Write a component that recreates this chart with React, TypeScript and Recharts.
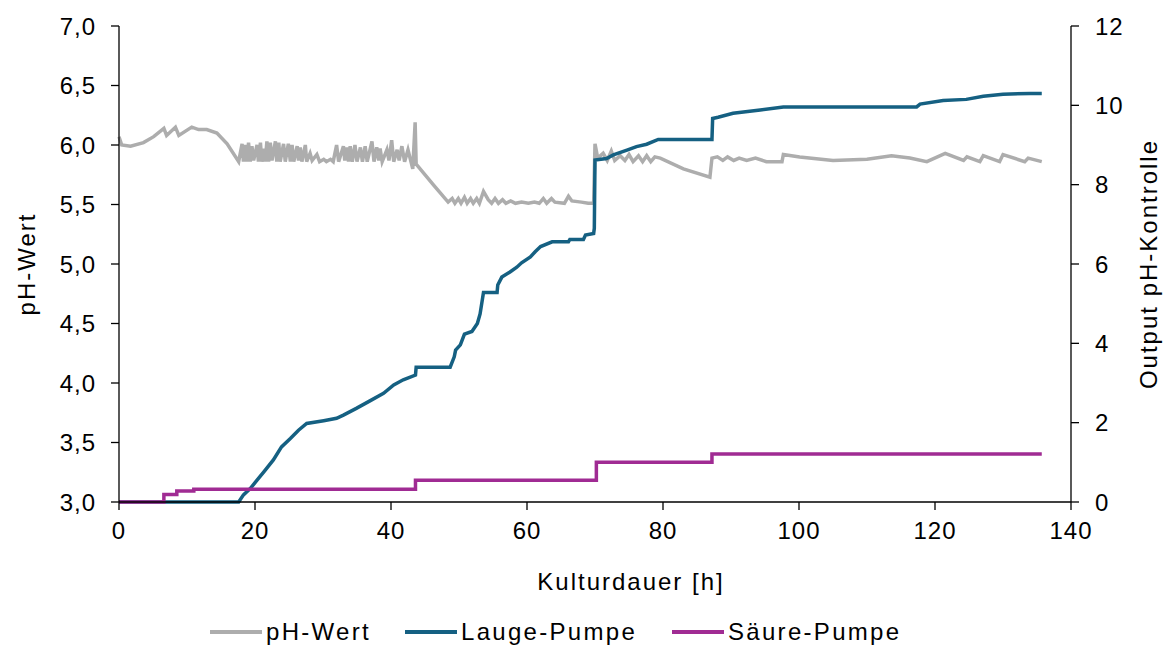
import React from 'react'
import { LineChart, Line, XAxis, YAxis, Legend } from 'recharts'

document.body.style.margin = '0'

// [Kulturdauer h, pH]
const phWert: [number, number][] = [
  [0, 6.07], [0.4, 6.0], [1.7, 5.99], [3.6, 6.02], [5.1, 6.07], [6.6, 6.14], [7.0, 6.08], [8.3, 6.15],
  [8.8, 6.08], [10.7, 6.15], [11.7, 6.13], [12.9, 6.13], [14.4, 6.1], [15.9, 6.01], [17.6, 5.86],
  [18.1, 6.01], [18.3, 5.86], [18.6, 6.0], [18.8, 5.86], [19.05, 6.02], [19.3, 5.86], [19.55, 5.99],
  [19.8, 5.87], [20.3, 6.0], [20.5, 5.86], [20.8, 6.02], [21.0, 5.86], [21.3, 5.97], [21.5, 5.86],
  [21.75, 6.03], [22.0, 5.86], [22.25, 6.02], [22.5, 5.87], [23.0, 6.03], [23.2, 5.86], [23.5, 6.02],
  [23.7, 5.86], [24.2, 6.01], [24.45, 5.86], [24.9, 6.01], [25.2, 5.86], [25.45, 6.0], [25.7, 5.86],
  [26.2, 5.99], [26.4, 5.87], [26.65, 5.98], [26.9, 5.86], [27.4, 6.0], [27.6, 5.86], [28.1, 5.93],
  [28.4, 5.87], [29.1, 5.92], [29.5, 5.86], [30.1, 5.88], [30.5, 5.86], [31.1, 5.88], [31.5, 5.86],
  [32.0, 6.0], [32.3, 5.86], [33.0, 5.99], [33.2, 5.87], [33.5, 5.98], [33.75, 5.86], [34.0, 5.99],
  [34.3, 5.86], [34.7, 6.0], [35.0, 5.86], [35.5, 5.98], [35.8, 5.86], [36.2, 5.99], [36.5, 5.86],
  [37.2, 6.03], [37.5, 5.86], [37.9, 5.98], [38.2, 5.87], [38.4, 5.97], [38.7, 5.86], [39.4, 5.96],
  [39.7, 5.87], [40.1, 6.04], [40.4, 5.86], [40.9, 5.96], [41.2, 5.87], [41.6, 5.99], [42.0, 5.86],
  [42.5, 5.96], [43.2, 5.8], [43.55, 6.19], [43.7, 5.84], [46.3, 5.66], [48.4, 5.52],
  [49.0, 5.55], [49.4, 5.51], [49.9, 5.55], [50.3, 5.51], [50.8, 5.56], [51.2, 5.51], [51.7, 5.55],
  [52.1, 5.51], [52.6, 5.55], [53.0, 5.51], [53.6, 5.61], [54.3, 5.54], [54.8, 5.51], [55.3, 5.55],
  [55.8, 5.51], [56.4, 5.54], [56.9, 5.51], [57.6, 5.53], [58.3, 5.51], [59.2, 5.52], [60.2, 5.51],
  [61.1, 5.52], [61.8, 5.51], [62.4, 5.55], [62.9, 5.51], [63.6, 5.55], [64.1, 5.52], [65.5, 5.51],
  [66.1, 5.57], [66.6, 5.53], [68.0, 5.52], [69.0, 5.51], [69.8, 5.51], [70.0, 6.01], [70.4, 5.89],
  [71.2, 5.93], [71.8, 5.87], [72.4, 5.95], [72.9, 5.87], [73.7, 5.91], [74.4, 5.87], [75.0, 5.92],
  [75.6, 5.86], [76.4, 5.91], [77.0, 5.86], [77.6, 5.91], [78.2, 5.86], [78.8, 5.9], [79.6, 5.89],
  [83.0, 5.8], [86.9, 5.73], [87.2, 5.89], [88.0, 5.9], [88.8, 5.87], [89.5, 5.9], [90.4, 5.87],
  [91.2, 5.89], [92.3, 5.87], [93.6, 5.89], [95.2, 5.86], [97.5, 5.86], [97.7, 5.92], [100.1, 5.9],
  [105.0, 5.87], [110.0, 5.88], [113.6, 5.91], [116.3, 5.89], [118.8, 5.86], [121.5, 5.93],
  [124.2, 5.87], [124.7, 5.9], [126.6, 5.86], [127.1, 5.91], [129.5, 5.86], [130.0, 5.92],
  [133.2, 5.86], [133.7, 5.89], [135.7, 5.86],
]

// [h, Output]
const laugePumpe: [number, number][] = [
  [0, 0], [17.6, 0], [18.3, 0.18], [19.3, 0.34], [20.3, 0.55], [21.3, 0.76], [22.7, 1.06], [23.9, 1.39],
  [25.2, 1.6], [26.4, 1.81], [27.6, 1.98], [30.1, 2.05], [32.0, 2.11], [33.0, 2.19], [34.9, 2.36],
  [36.9, 2.55], [38.9, 2.74], [40.4, 2.95], [41.8, 3.08], [43.6, 3.2], [43.7, 3.4], [48.7, 3.4],
  [49.3, 3.66], [49.5, 3.83], [50.2, 3.96], [50.8, 4.23], [51.9, 4.3], [52.7, 4.5], [53.1, 4.74],
  [53.6, 5.28], [55.6, 5.28], [55.7, 5.47], [56.3, 5.67], [57.5, 5.8], [58.5, 5.92], [59.2, 6.03],
  [60.5, 6.18], [61.2, 6.31], [62.0, 6.44], [63.7, 6.56], [66.1, 6.56], [66.3, 6.62], [68.3, 6.62],
  [68.6, 6.73], [69.8, 6.77], [69.9, 6.9], [70.0, 8.62], [71.7, 8.66], [72.7, 8.75], [74.7, 8.87],
  [76.1, 8.96], [77.6, 9.02], [79.3, 9.14], [87.2, 9.14], [87.3, 9.67], [88.1, 9.7], [90.3, 9.8],
  [94.3, 9.88], [97.7, 9.96], [117.3, 9.96], [117.8, 10.03], [121.2, 10.12], [124.6, 10.15],
  [127.1, 10.23], [130.0, 10.28], [134.0, 10.3], [135.7, 10.3],
]

// stepped
const saeurePumpe: [number, number][] = [
  [0, 0], [6.6, 0.19], [8.5, 0.28], [11.0, 0.32], [43.6, 0.55], [70.2, 1.0], [87.2, 1.21], [135.7, 1.21],
]

const xTicks = [0, 20, 40, 60, 80, 100, 120, 140]
const phTicks = [3, 3.5, 4, 4.5, 5, 5.5, 6, 6.5, 7]
const outTicks = [0, 2, 4, 6, 8, 10, 12]

const toRows = (arr: [number, number][]) => arr.map(([h, v]) => ({ h, v }))

const FONT = '"Liberation Sans", Arial, sans-serif'
const tickStyle = { fontSize: 24, fill: '#000', fontFamily: FONT, letterSpacing: 1 }
const labelStyle = { fontSize: 24, fill: '#000', fontFamily: FONT, letterSpacing: 2, textAnchor: 'middle' as const }

const legendItems = [
  { name: 'pH-Wert', color: '#ADADAD', left: 210 },
  { name: 'Lauge-Pumpe', color: '#156082', left: 405 },
  { name: 'Säure-Pumpe', color: '#A02B93', left: 672 },
]

function LegendContent() {
  return (
    <div style={{ position: 'relative', width: 1170, height: 30, fontFamily: FONT, fontSize: 24, letterSpacing: 2.3 }}>
      {legendItems.map((it) => (
        <div key={it.name} style={{ position: 'absolute', left: it.left, top: 0, height: 30, display: 'flex', alignItems: 'center' }}>
          <span style={{ display: 'inline-block', width: 52, height: 3.5, background: it.color, marginRight: 4 }} />
          <span style={{ color: '#000' }}>{it.name}</span>
        </div>
      ))}
    </div>
  )
}

export default function App() {
  return (
    <LineChart width={1170} height={647} margin={{ top: 26, right: 0, bottom: 0, left: 0 }}>
      <XAxis
        type="number"
        dataKey="h"
        domain={[0, 140]}
        ticks={xTicks}
        interval={0}
        height={115}
        tickSize={8}
        tickMargin={12}
        tick={tickStyle}
        axisLine={{ stroke: '#000', strokeWidth: 1.3 }}
        tickLine={{ stroke: '#000', strokeWidth: 1.3 }}
        label={{ value: 'Kulturdauer [h]', position: 'insideBottom', offset: 27, dx: 36, style: labelStyle }}
      />
      <YAxis
        yAxisId="ph"
        orientation="left"
        domain={[3, 7]}
        ticks={phTicks}
        interval={0}
        width={119}
        tickSize={8}
        tickMargin={15}
        tick={tickStyle}
        tickFormatter={(v: number) => v.toFixed(1).replace('.', ',')}
        axisLine={{ stroke: '#000', strokeWidth: 1.3 }}
        tickLine={{ stroke: '#000', strokeWidth: 1.3 }}
        label={{ value: 'pH-Wert', angle: -90, position: 'insideLeft', offset: 26, style: labelStyle }}
      />
      <YAxis
        yAxisId="out"
        orientation="right"
        domain={[0, 12]}
        ticks={outTicks}
        interval={0}
        width={99}
        tickSize={8}
        tickMargin={16}
        tick={tickStyle}
        axisLine={{ stroke: '#000', strokeWidth: 1.3 }}
        tickLine={{ stroke: '#000', strokeWidth: 1.3 }}
        label={{ value: 'Output pH-Kontrolle', angle: -90, position: 'insideRight', offset: 22, style: labelStyle }}
      />
      <Legend verticalAlign="bottom" height={30} content={() => <LegendContent />} />
      <Line
        yAxisId="ph"
        data={toRows(phWert)}
        dataKey="v"
        name="pH-Wert"
        type="linear"
        stroke="#ADADAD"
        strokeWidth={3.5}
        dot={false}
        isAnimationActive={false}
      />
      <Line
        yAxisId="out"
        data={toRows(laugePumpe)}
        dataKey="v"
        name="Lauge-Pumpe"
        type="linear"
        stroke="#156082"
        strokeWidth={3.5}
        dot={false}
        isAnimationActive={false}
      />
      <Line
        yAxisId="out"
        data={toRows(saeurePumpe)}
        dataKey="v"
        name="Säure-Pumpe"
        type="stepAfter"
        stroke="#A02B93"
        strokeWidth={3.5}
        dot={false}
        isAnimationActive={false}
      />
    </LineChart>
  )
}
